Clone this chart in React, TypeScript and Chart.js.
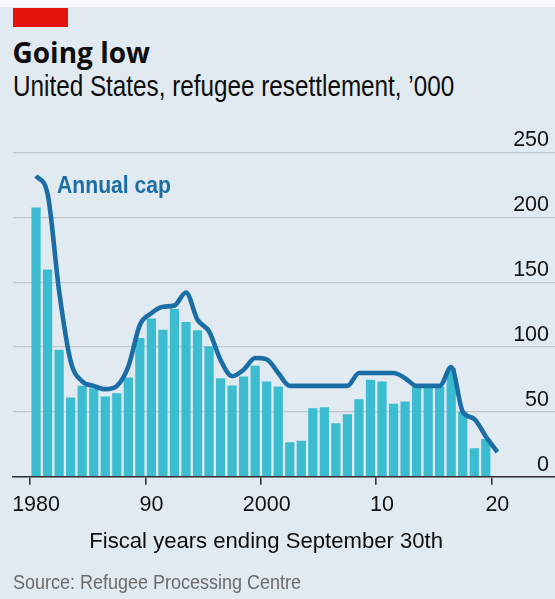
import React, { useEffect, useRef } from 'react';
import { Chart, registerables } from 'chart.js';

Chart.register(...registerables);

// ---- data (thousands) ----
const startYear = 1980;
// refugees admitted, fiscal years 1980-2019
const refugeesAdmitted = [
  207.5, 159.8, 97.9, 61.1, 70.1, 68.3, 61.9, 64.4, 76.5, 107.0,
  121.9, 113.4, 129.4, 119.3, 112.9, 100.5, 76.0, 70.4, 77.3, 85.6,
  73.5, 69.6, 26.5, 27.8, 52.8, 53.6, 41.2, 48.2, 59.8, 74.7,
  73.5, 56.2, 58.0, 69.6, 69.6, 69.6, 83.8, 50.0, 21.9, 29.0,
];
// annual cap, fiscal years 1980-2020
const annualCap = [
  232, 218, 143, 89, 73.5, 70, 67.5, 70, 85, 117,
  126, 131, 132, 142, 121, 112, 90, 77.5, 82.5, 91.5,
  90.5, 80, 70, 70, 70, 70, 70, 70, 80, 80,
  80, 80, 76, 70, 70, 70, 84.5, 50, 44.5, 31,
  19,
];
const axisFirstYear = 1978;
const axisLastYear = 2025;
const xTickLabels: Record<string, string> = {
  '1980': '1980', '1990': '90', '2000': '2000', '2010': '10', '2020': '20',
};
const yMin = 0;
const yMax = 250;
const yStep = 50;

const BG = '#e2eaf1';
const BAR = '#3bbcd1';
const LINE = '#1b6ea5';
const SANS = '"Liberation Sans", Arial, sans-serif';

const axisLabels: string[] = [];
for (let y = axisFirstYear; y <= axisLastYear; y++) axisLabels.push(String(y));

function ChartCanvas() {
  const ref = useRef<HTMLCanvasElement | null>(null);
  useEffect(() => {
    if (!ref.current) return;
    const chart = new Chart(ref.current, {
      type: 'bar',
      data: {
        labels: axisLabels,
        datasets: [
          {
            type: 'line',
            label: 'Annual cap',
            data: annualCap.map((v, i) => ({ x: String(startYear + i), y: v })) as any,
            borderColor: LINE,
            borderWidth: 4.6,
            pointRadius: 0,
            cubicInterpolationMode: 'monotone',
            borderJoinStyle: 'round',
            borderCapStyle: 'butt',
            order: 0,
          } as any,
          {
            type: 'bar',
            label: 'Refugees admitted',
            data: refugeesAdmitted.map((v, i) => ({ x: String(startYear + i), y: v })) as any,
            backgroundColor: BAR,
            categoryPercentage: 1,
            barPercentage: 0.8,
            order: 1,
          } as any,
        ],
      },
      options: {
        animation: false,
        responsive: false,
        maintainAspectRatio: false,
        layout: { padding: { top: 152.5, left: 13, right: 0, bottom: 80.3 } },
        plugins: {
          legend: { display: false },
          tooltip: { enabled: false },
          title: { display: false },
        },
        scales: {
          x: {
            type: 'category',
            offset: false,
            afterFit: (s: any) => { s.height = 42; },
            grid: {
              drawOnChartArea: false,
              drawTicks: true,
              tickLength: 8,
              lineWidth: 1.6,
              color: (ctx: any) => (xTickLabels[axisLabels[ctx.index]] ? '#333333' : 'rgba(0,0,0,0)'),
            },
            border: { display: true, color: '#333333', width: 1.6 },
            ticks: {
              autoSkip: false,
              maxRotation: 0,
              minRotation: 0,
              padding: 0,
              color: '#111111',
              font: { family: SANS, size: 21.5, lineHeight: 1.935 },
              callback: (_v: any, i: number) => xTickLabels[axisLabels[i]] ?? '',
            },
          },
          y: {
            position: 'right',
            min: yMin,
            max: yMax,
            afterFit: (s: any) => { s.width = 0; },
            grid: { color: '#c0c7cd', lineWidth: 1.3, drawTicks: false },
            border: { display: false },
            ticks: {
              stepSize: yStep,
              mirror: true,
              padding: -6,
              labelOffset: -12,
              color: '#111111',
              font: { family: SANS, size: 21.5 },
            },
          },
        },
      },
    });
    return () => chart.destroy();
  }, []);
  return (
    <canvas
      ref={ref}
      width={555}
      height={599}
      style={{ position: 'absolute', left: 0, top: 0, width: 555, height: 599 }}
    />
  );
}

export default function App() {
  const text = (s: React.CSSProperties, sx = 1): React.CSSProperties => ({
    position: 'absolute',
    whiteSpace: 'nowrap',
    margin: 0,
    transform: sx !== 1 ? `scaleX(${sx})` : undefined,
    transformOrigin: 'left top',
    ...s,
  });
  return (
    <div
      style={{
        position: 'absolute',
        left: 0,
        top: 0,
        width: 555,
        height: 599,
        background: BG,
        overflow: 'hidden',
      }}
    >
      <div style={{ position: 'absolute', left: 0, top: 0, width: 555, height: 7, background: '#f7f9fb' }} />
      <div style={{ position: 'absolute', left: 12.5, top: 8.3, width: 55.8, height: 18.5, background: '#e3120b' }} />
      <div
        style={text({
          left: 12.5, top: 37.8, fontFamily: '"Open Sans", sans-serif', fontWeight: 700,
          fontSize: 28, lineHeight: '28px', color: '#0d0d0d',
        })}
      >
        Going low
      </div>
      <div
        style={text({
          left: 12.5, top: 72.2, fontFamily: SANS, fontSize: 29, lineHeight: '29px', color: '#0d0d0d',
        }, 0.837)}
      >
        United States, refugee resettlement, ’000
      </div>
      <ChartCanvas />
      <div
        style={text({
          left: 57.3, top: 173.4, fontFamily: SANS, fontWeight: 700, fontSize: 24.7,
          lineHeight: '24.7px', color: LINE,
        }, 0.857)}
      >
        Annual cap
      </div>
      <div
        style={text({
          left: 89.3, top: 529.6, fontFamily: SANS, fontSize: 22.1,
          lineHeight: '22.1px', color: '#0d0d0d',
        })}
      >
        Fiscal years ending September 30th
      </div>
      <div
        style={text({
          left: 12.5, top: 570.5, fontFamily: SANS, fontSize: 21, lineHeight: '21px', color: '#6b6b6b',
        }, 0.857)}
      >
        Source: Refugee Processing Centre
      </div>
    </div>
  );
}
